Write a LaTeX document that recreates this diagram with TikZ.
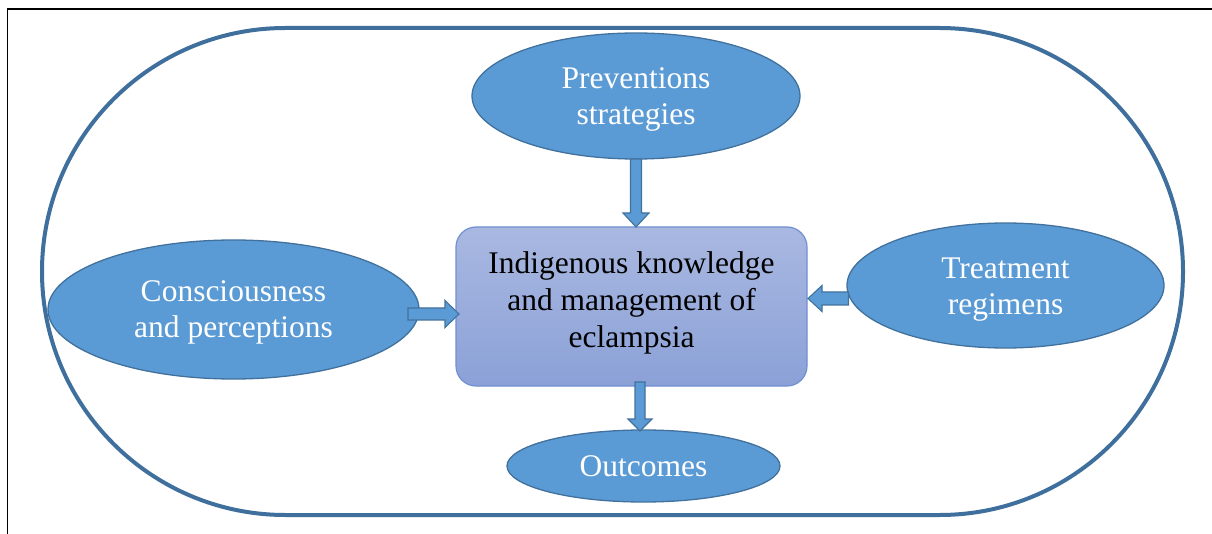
\documentclass[tikz,border=0pt]{standalone}
\usepackage{fontspec}
\setmainfont{Liberation Serif}
\usetikzlibrary{calc,shapes.geometric}

\definecolor{bubblefill}{HTML}{5B9BD5}
\definecolor{bubbleedge}{HTML}{41719C}
\definecolor{ringblue}{HTML}{3F6F9D}
\definecolor{coretop}{HTML}{A9B8E1}
\definecolor{corebot}{HTML}{8BA1D7}
\definecolor{coreedge}{HTML}{7090D2}

% block arrow from #1 to #2: shaft half width #3, head half width #4, head length #5
\newcommand\blockarrow[5]{%
  \coordinate (ba-h) at ($(#2)!#5!(#1)$);
  \filldraw[arrowbody]
    ($(#1)!#3!90:(#2)$) -- ($(ba-h)!#3!90:(#2)$) -- ($(ba-h)!#4!90:(#2)$) --
    (#2) --
    ($(ba-h)!#4!-90:(#2)$) -- ($(ba-h)!#3!-90:(#2)$) -- ($(#1)!#3!-90:(#2)$) -- cycle;}

\tikzset{
  ring/.style={draw=ringblue, line width=4pt, rounded corners=243.5pt,
    minimum width=1141pt, minimum height=487pt, inner sep=0pt, outer sep=0pt},
  bubble/.style={ellipse, draw=bubbleedge, line width=1.3pt, fill=bubblefill,
    inner sep=0pt, outer sep=0pt},
  bubbletext/.style={text=white, align=center, inner sep=0pt,
    font=\fontsize{31.5}{36}\selectfont},
  corebox/.style={draw=coreedge, line width=1.2pt, rounded corners=20pt,
    top color=coretop, bottom color=corebot,
    minimum width=351pt, minimum height=159pt, inner sep=0pt, outer sep=0pt},
  coretext/.style={align=center, text=black, inner sep=0pt,
    font=\fontsize{31.5}{37}\selectfont},
  arrowbody/.style={fill=bubblefill, draw=bubbleedge, line width=1.1pt, line join=miter},
}

\begin{document}
\begin{tikzpicture}[x=1pt, y=-1pt]
  \useasboundingbox (0,0) rectangle (1212,534);
  \fill[white] (0,0) rectangle (1212,534);

  % page frame
  \draw[black, line width=1.2pt] (7.5,534) -- (7.5,9) -- (1212,9);

  % enclosing stadium
  \node[ring] (ring) at (612.5,271.5) {};

  % central box
  \node[corebox] (core) at (631.5,306.5) {};
  \node[coretext] (coretxt) at ($(core.center)+(0,-4)$)
    {Indigenous knowledge\\and management of\\eclampsia};

  % surrounding themes
  \node[bubble, minimum width=328pt, minimum height=126pt] (prev) at (636,96) {};
  \node[bubbletext] (prevtxt) at ($(prev.center)+(0,3)$) {Preventions\\strategies};

  \node[bubble, minimum width=371pt, minimum height=139pt] (cons) at (233.5,309.5) {};
  \node[bubbletext] (constxt) at ($(cons.center)+(0,3)$) {Consciousness\\and perceptions};

  \node[bubble, minimum width=317pt, minimum height=125pt] (treat) at (1005.5,285.5) {};
  \node[bubbletext] (treattxt) at ($(treat.center)+(0,4)$) {Treatment\\regimens};

  \node[bubble, minimum width=273pt, minimum height=72pt] (outc) at (643.5,466) {};
  \node[bubbletext] (outctxt) at ($(outc.center)+(0,0)$) {Outcomes};

  % block arrows into and out of the central box
  \coordinate (a1) at (prev.south);
  \coordinate (b1) at (core.north -| prev.south);
  \blockarrow{a1}{b1}{5.5pt}{13pt}{14pt}

  \coordinate (a2) at ($(cons.east)+(-11,4.5)$);
  \coordinate (b2) at ($(core.west |- a2)+(3,0)$);
  \blockarrow{a2}{b2}{6pt}{13.5pt}{14pt}

  \coordinate (a3) at ($(treat.west)+(1.5,13)$);
  \coordinate (b3) at ($(core.east |- a3)+(1,0)$);
  \blockarrow{a3}{b3}{6.5pt}{13pt}{14pt}

  \coordinate (a4) at ($(outc.north |- core.south)+(-3.5,-4)$);
  \coordinate (b4) at ($(outc.north)+(-3.5,1)$);
  \blockarrow{a4}{b4}{5pt}{12pt}{12pt}
\end{tikzpicture}
\end{document}
